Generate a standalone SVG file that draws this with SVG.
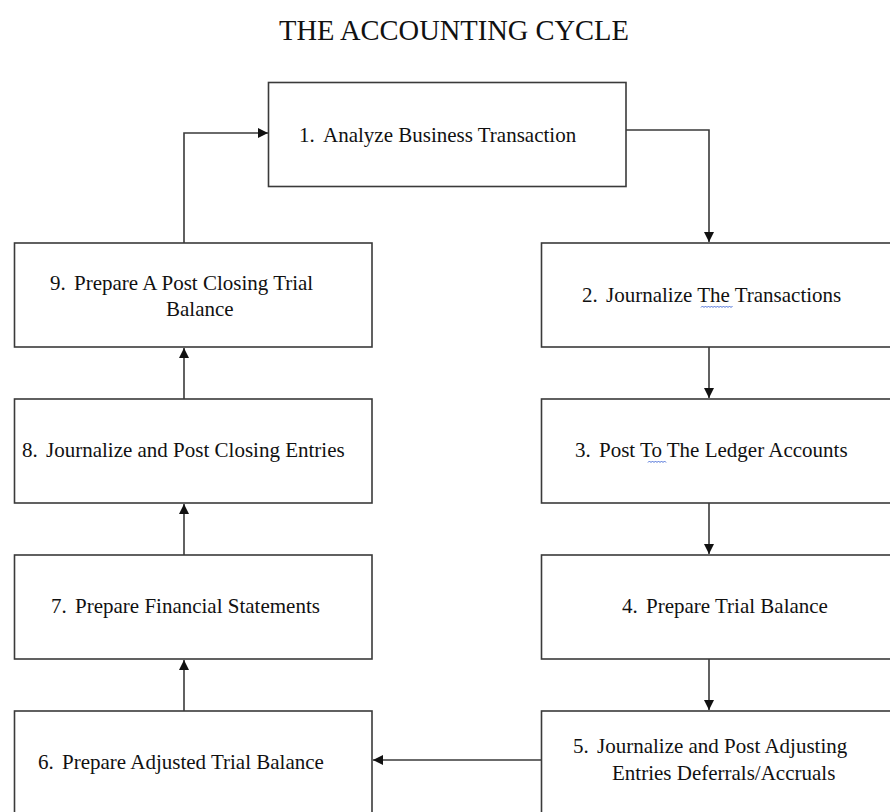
<svg xmlns="http://www.w3.org/2000/svg" width="890" height="812" viewBox="0 0 890 812">
<defs>
<style>
.box{fill:#fff;stroke:#3a3a3a;stroke-width:1.6}
.t{font-family:'Liberation Serif','DejaVu Serif','Times New Roman',serif;font-size:21px;fill:#111}
.title{font-family:'Liberation Serif','DejaVu Serif','Times New Roman',serif;font-size:28.5px;fill:#111}
.c{fill:none;stroke:#3a3a3a;stroke-width:1.6}
.sq{fill:none;stroke:#4a6fd8;stroke-width:1}
</style>
<marker id="ah" viewBox="0 0 10 10" refX="10" refY="5" markerWidth="10" markerHeight="10" markerUnits="userSpaceOnUse" orient="auto">
<path d="M0,0 L10,5 L0,10 Z" fill="#111"/>
</marker>
</defs>
<rect width="890" height="812" fill="#fff"/>
<text class="title" x="279" y="40" font-family="Liberation Serif, serif">THE ACCOUNTING CYCLE</text>

<g id="connectors">
<path class="c" d="M626,130 H709 V242" marker-end="url(#ah)"/>
<path class="c" d="M709,347 V398" marker-end="url(#ah)"/>
<path class="c" d="M709,503 V554" marker-end="url(#ah)"/>
<path class="c" d="M709,659 V710" marker-end="url(#ah)"/>
<path class="c" d="M541,760 H373" marker-end="url(#ah)"/>
<path class="c" d="M184,711 V660" marker-end="url(#ah)"/>
<path class="c" d="M184,555 V504" marker-end="url(#ah)"/>
<path class="c" d="M184,399 V348" marker-end="url(#ah)"/>
<path class="c" d="M184,243 V133 H268" marker-end="url(#ah)"/>
</g>

<g id="node1">
<rect class="box" x="268.5" y="82.5" width="357.5" height="104"/>
<text class="t" x="299" y="142">1.<tspan x="323">Analyze Business Transaction</tspan></text>
</g>
<g id="node2">
<rect class="box" x="541.5" y="243" width="360" height="104"/>
<text class="t" x="582" y="302">2.<tspan x="606">Journalize The Transactions</tspan></text>
<path class="sq" d="M701,307.5 l1.5,-1.5 l1.5,1.5 l1.5,-1.5 l1.5,1.5 l1.5,-1.5 l1.5,1.5 l1.5,-1.5 l1.5,1.5 l1.5,-1.5 l1.5,1.5 l1.5,-1.5 l1.5,1.5 l1.5,-1.5 l1.5,1.5 l1.5,-1.5 l1.5,1.5 l1.5,-1.5 l1.5,1.5 l1.5,-1.5 l1.5,1.5 l1.5,-1.5"/>
</g>
<g id="node3">
<rect class="box" x="541.5" y="399" width="360" height="104"/>
<text class="t" x="575" y="457">3.<tspan x="599">Post To The Ledger Accounts</tspan></text>
<path class="sq" d="M648,462.5 l1.5,-1.5 l1.5,1.5 l1.5,-1.5 l1.5,1.5 l1.5,-1.5 l1.5,1.5 l1.5,-1.5 l1.5,1.5 l1.5,-1.5 l1.5,1.5 l1.5,-1.5 l1.5,1.5"/>
</g>
<g id="node4">
<rect class="box" x="541.5" y="555" width="360" height="104"/>
<text class="t" x="622" y="613">4.<tspan x="646">Prepare Trial Balance</tspan></text>
</g>
<g id="node5">
<rect class="box" x="541.5" y="711" width="360" height="110"/>
<text class="t" x="573" y="753">5.<tspan x="597">Journalize and Post Adjusting</tspan></text>
<text class="t" x="612" y="780">Entries Deferrals/Accruals</text>
</g>
<g id="node6">
<rect class="box" x="14.5" y="711" width="357.5" height="110"/>
<text class="t" x="38" y="769">6.<tspan x="62">Prepare Adjusted Trial Balance</tspan></text>
</g>
<g id="node7">
<rect class="box" x="14.5" y="555" width="357.5" height="104"/>
<text class="t" x="51" y="613">7.<tspan x="75">Prepare Financial Statements</tspan></text>
</g>
<g id="node8">
<rect class="box" x="14.5" y="399" width="357.5" height="104"/>
<text class="t" x="22" y="457">8.<tspan x="46">Journalize and Post Closing Entries</tspan></text>
</g>
<g id="node9">
<rect class="box" x="14.5" y="243" width="357.5" height="104"/>
<text class="t" x="50" y="290">9.<tspan x="74">Prepare A Post Closing Trial</tspan></text>
<text class="t" x="166" y="316">Balance</text>
</g>
</svg>
